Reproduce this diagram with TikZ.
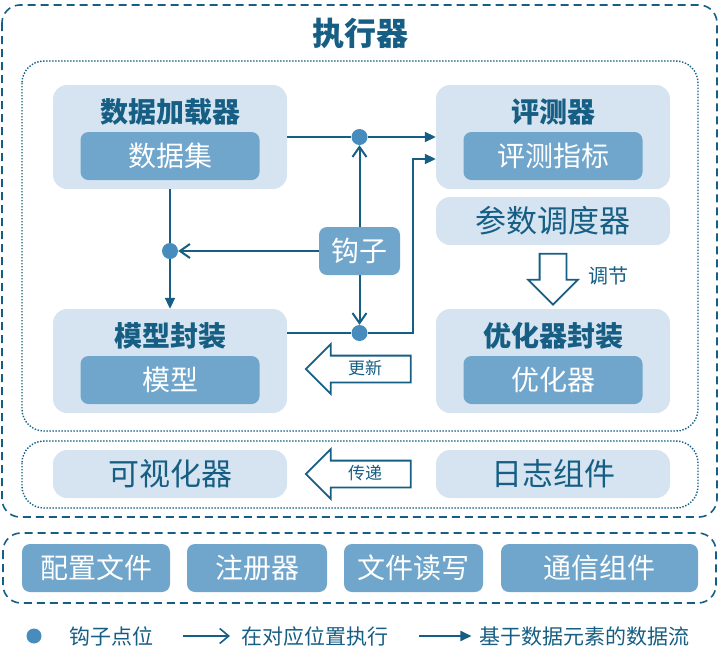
\documentclass[tikz,border=0pt]{standalone}
\usepackage{fontspec}
\setmainfont{Noto Sans CJK SC}
\usepackage{tikz}
\definecolor{tealdark}{RGB}{22,94,132}
\definecolor{boxlight}{RGB}{213,228,240}
\definecolor{boxmid}{RGB}{112,166,204}
\definecolor{hookdot}{RGB}{72,140,190}
\usetikzlibrary{arrows.meta, positioning, shapes.arrows}

\begin{document}
\begin{tikzpicture}[
  x=1pt, y=-1pt,
  >=Stealth,
  outer frame/.style={draw=tealdark, line width=1.6pt, dash pattern=on 8pt off 5pt, rounded corners=18pt},
  group frame/.style={draw=tealdark, line width=1.4pt, dash pattern=on 1.4pt off 1.6pt, rounded corners=22pt},
  light box/.style={fill=boxlight, rounded corners=14pt, inner sep=0pt},
  mid box/.style={fill=boxmid, rounded corners=8pt, inner sep=0pt, text=white, font=\fontsize{28}{32}\selectfont},
  box title/.style={text=tealdark, font=\fontsize{28}{32}\selectfont\bfseries},
  box text/.style={text=tealdark, font=\fontsize{31}{35}\selectfont},
  hook dot/.style={circle, fill=hookdot, minimum size=16pt, inner sep=0pt},
  flow/.style={-{Triangle[length=11pt,width=10pt]}, draw=tealdark, line width=2pt},
  hook arrow/.style={-{Straight Barb[length=10pt,width=14pt]}, draw=tealdark, line width=2pt},
  big arrow/.style={single arrow, draw=tealdark, fill=white, line width=1.8pt,
    single arrow head extend=11.5pt, text height=13pt, text depth=2pt, inner ysep=5pt,
    inner xsep=0pt, text=tealdark, font=\fontsize{17}{20}\selectfont},
  legend text/.style={text=tealdark, font=\fontsize{21}{24}\selectfont},
]
  \useasboundingbox (0,0) rectangle (720,662);

  % executor frame
  \draw[outer frame] (2,5) rectangle (717,517);
  \node[text=tealdark, font=\fontsize{32}{36}\selectfont\bfseries] (exectitle) at (360,33) {执行器};
  \draw[group frame] (22,61) rectangle (698,431);
  \draw[group frame] (22,441) rectangle (698,508);

  % components
  \node[light box, minimum width=234pt, minimum height=104pt] (loader) at (170,137) {};
  \node[box title] (loadertitle) at (170,112) {数据加载器};
  \node[mid box, minimum width=179pt, minimum height=48pt] (dataset) at (170,156) {数据集};

  \node[light box, minimum width=234pt, minimum height=104pt] (model) at (170,361) {};
  \node[box title] (modeltitle) at (170,336) {模型封装};
  \node[mid box, minimum width=179pt, minimum height=48pt] (modelin) at (170,380) {模型};

  \node[light box, minimum width=234pt, minimum height=104pt] (evaluator) at (553,137) {};
  \node[box title] (evaltitle) at (553,112) {评测器};
  \node[mid box, minimum width=179pt, minimum height=48pt] (metric) at (553,156) {评测指标};

  \node[light box, box text, minimum width=234pt, minimum height=48pt] (scheduler) at (553,221) {参数调度器};

  \node[light box, minimum width=234pt, minimum height=104pt] (optim) at (553,361) {};
  \node[box title] (optimtitle) at (553,336) {优化器封装};
  \node[mid box, minimum width=179pt, minimum height=48pt] (optimin) at (553,380) {优化器};

  \node[light box, box text, minimum width=234pt, minimum height=48pt] (visual) at (170,474) {可视化器};
  \node[light box, box text, minimum width=234pt, minimum height=48pt] (logger) at (553,474) {日志组件};

  \node[mid box, minimum width=81pt, minimum height=48pt] (hook) at (359.5,251) {钩子};

  % hook points
  \node[hook dot] (hkup) at (359.5,137) {};
  \node[hook dot] (hkdown) at (359.5,333) {};
  \node[hook dot] (hkleft) at (170,251) {};
  \coordinate (bend) at (413,333);
  \coordinate (evalin) at ([yshift=-22pt]evaluator.west);

  \draw[flow] (loader.east) -- (hkup) -- (evaluator.west);
  \draw[flow] (model.east |- hkdown) -- (hkdown) -- (bend) |- (evalin);
  \draw[flow] (loader.south) -- (hkleft) -- (model.north);
  \draw[hook arrow] (hook.north) -- (hkup);
  \draw[hook arrow] (hook.south) -- (hkdown);
  \draw[hook arrow] (hook.west) -- (hkleft);

  \node[big arrow, shape border rotate=180, minimum height=105pt] (update) at (365,369) {更新};
  \node[big arrow, shape border rotate=180, minimum height=105pt] (pass) at (365,474) {传递};
  \node[big arrow, shape border rotate=270, inner xsep=12.5pt, text height=0pt, text depth=0pt,
    minimum height=51pt] (adjust) at (553,272.5) {};
  \node[text=tealdark, font=\fontsize{20}{24}\selectfont] (adjustlbl) at (608,276) {调节};

  % common modules
  \draw[outer frame] (3,533) rectangle (716,603);
  \node[mid box, minimum width=148pt, minimum height=48pt] (config) at (96,568) {配置文件};
  \node[mid box, minimum width=140pt, minimum height=48pt] (registry) at (257,568) {注册器};
  \node[mid box, minimum width=139pt, minimum height=48pt] (fileio) at (413.5,568) {文件读写};
  \node[mid box, minimum width=197pt, minimum height=48pt] (comm) at (599.5,568) {通信组件};

  % legend
  \node[hook dot, minimum size=15pt] (lgdot) at (34,636) {};
  \node[legend text] (lghook) at (111,636) {钩子点位};
  \node[legend text] (lgexec) at (315,636) {在对应位置执行};
  \node[legend text] (lgflow) at (584,636) {基于数据元素的数据流};
  \draw[hook arrow, line width=1.6pt, -{Straight Barb[length=9pt,width=15pt]}] ([xshift=-55pt]lgexec.west) -- ([xshift=-8pt]lgexec.west);
  \draw[flow] ([xshift=-56pt]lgflow.west) -- ([xshift=-4pt]lgflow.west);
\end{tikzpicture}
\end{document}
